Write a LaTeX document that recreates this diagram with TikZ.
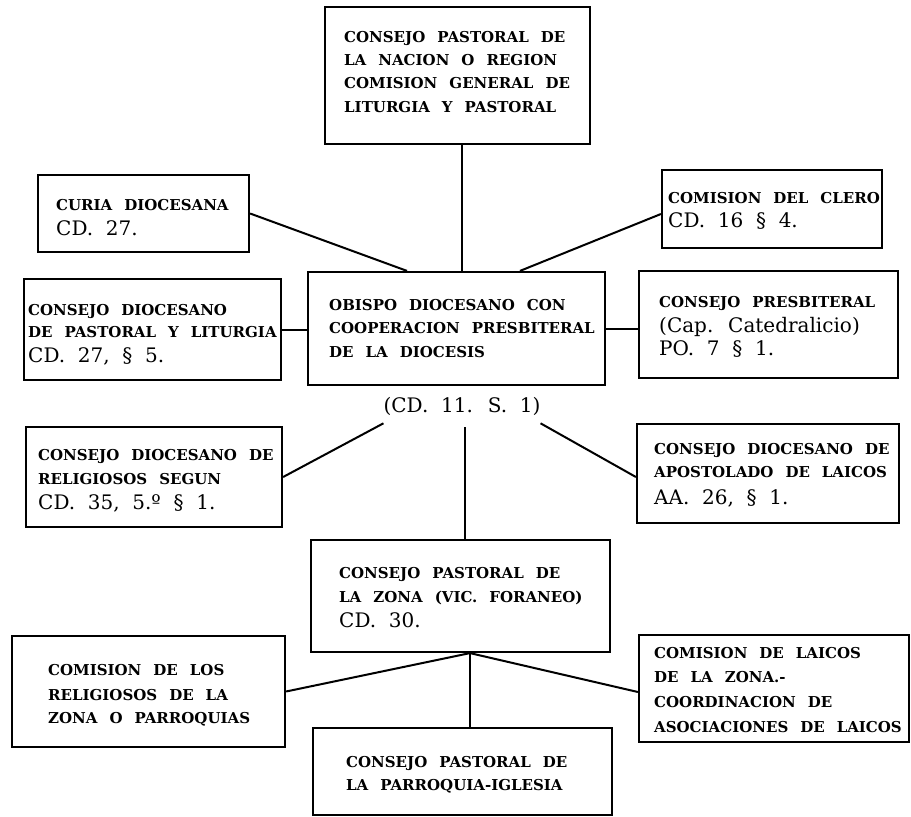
\documentclass[tikz,border=0pt]{standalone}
\usepackage{fontspec}
\setmainfont{DejaVu Serif}
\newfontfamily\capf[WordSpace=2.3]{DejaVu Serif Bold}
\newfontfamily\cdf[WordSpace=2]{DejaVu Serif}
\begin{document}
\begin{tikzpicture}[x=1pt,y=-1pt,
  box/.style={draw,line width=2.2pt,inner sep=0},
  ln/.style={line width=2pt},
  captxt/.style={anchor=base west,inner sep=0,font=\capf\fontsize{15}{16}\selectfont},
  cdtxt/.style={anchor=base west,inner sep=0,font=\cdf\fontsize{20}{20}\selectfont}]
\useasboundingbox[fill=white] (0,0) rectangle (911,817);
% boxes
\node[box,minimum width=265pt,minimum height=137pt] (top) at (457.5,75.5) {};
\node[box,minimum width=211pt,minimum height=77pt] (curia) at (143.5,213.5) {};
\node[box,minimum width=220pt,minimum height=78pt] (clero) at (772,209) {};
\node[box,minimum width=257pt,minimum height=101pt] (dpl) at (152.5,329.5) {};
\node[box,minimum width=297pt,minimum height=113pt] (obispo) at (456.5,328.5) {};
\node[box,minimum width=259pt,minimum height=107pt] (presb) at (768.5,324.5) {};
\node[box,minimum width=256pt,minimum height=100pt] (relig) at (154,477) {};
\node[box,minimum width=262pt,minimum height=99pt] (apost) at (768,473.5) {};
\node[box,minimum width=299pt,minimum height=112pt] (zona) at (460.5,596) {};
\node[box,minimum width=273pt,minimum height=111pt] (comrel) at (148.5,691.5) {};
\node[box,minimum width=270pt,minimum height=107pt] (comlai) at (774,688.5) {};
\node[box,minimum width=299pt,minimum height=87pt] (parr) at (462.5,771.5) {};
% texts
\node[captxt] (t1) at (344,42) {CONSEJO PASTORAL DE};
\node[captxt] (t2) at (344,65) {LA NACION O REGION};
\node[captxt] (t3) at (344,88) {COMISION GENERAL DE};
\node[captxt] (t4) at (344,112) {LITURGIA Y PASTORAL};
\node[captxt] (c1) at (56,210) {CURIA DIOCESANA};
\node[cdtxt] (c2) at (56,235) {CD. 27.};
\node[captxt] (k1) at (668,203) {COMISION DEL CLERO};
\node[cdtxt] (k2) at (668,227) {CD. 16 § 4.};
\node[captxt] (d1) at (28,315) {CONSEJO DIOCESANO};
\node[captxt] (d2) at (28,337) {DE PASTORAL Y LITURGIA};
\node[cdtxt] (d3) at (28,362) {CD. 27, § 5.};
\node[captxt] (o1) at (329,310) {OBISPO DIOCESANO CON};
\node[captxt] (o2) at (329,333) {COOPERACION PRESBITERAL};
\node[captxt] (o3) at (329,357) {DE LA DIOCESIS};
\node[captxt] (p1) at (659,307) {CONSEJO PRESBITERAL};
\node[cdtxt] (p2) at (659,332) {(Cap. Catedralicio)};
\node[cdtxt] (p3) at (659,355) {PO. 7 § 1.};
\node[cdtxt,anchor=base] (cdl) at (462,412) {(CD. 11. S. 1)};
\node[captxt] (r1) at (38,460) {CONSEJO DIOCESANO DE};
\node[captxt] (r2) at (38,484) {RELIGIOSOS SEGUN};
\node[cdtxt] (r3) at (38,509) {CD. 35, 5.º § 1.};
\node[captxt] (a1) at (654,454) {CONSEJO DIOCESANO DE};
\node[captxt] (a2) at (654,477) {APOSTOLADO DE LAICOS};
\node[cdtxt] (a3) at (654,504) {AA. 26, § 1.};
\node[captxt] (z1) at (339,578) {CONSEJO PASTORAL DE};
\node[captxt] (z2) at (339,602) {LA ZONA (VIC. FORANEO)};
\node[cdtxt] (z3) at (339,627) {CD. 30.};
\node[captxt] (m1) at (48,675) {COMISION DE LOS};
\node[captxt] (m2) at (48,700) {RELIGIOSOS DE LA};
\node[captxt] (m3) at (48,723) {ZONA O PARROQUIAS};
\node[captxt] (l1) at (654,658) {COMISION DE LAICOS};
\node[captxt] (l2) at (654,682) {DE LA ZONA.-};
\node[captxt] (l3) at (654,707) {COORDINACION DE};
\node[captxt] (l4) at (654,732) {ASOCIACIONES DE LAICOS};
\node[captxt] (q1) at (346,767) {CONSEJO PASTORAL DE};
\node[captxt] (q2) at (346,790) {LA PARROQUIA-IGLESIA};
% connectors
\draw[ln] ([xshift=4.5pt]top.south) -- ([xshift=5.5pt]obispo.north);
\draw[ln] (curia.east) -- ([xshift=-49.5pt]obispo.north);
\draw[ln] ([yshift=-5pt]clero.west) -- ([xshift=63.5pt]obispo.north);
\draw[ln] (dpl.east) -- (dpl.east -| obispo.west);
\draw[ln] (obispo.east) -- (obispo.east -| presb.west);
\draw[ln] (relig.east) -- ([yshift=-8pt]cdl.south west);
\draw[ln] ([xshift=3pt,yshift=-12pt]cdl.south) -- ([xshift=4.5pt]zona.north);
\draw[ln] ([yshift=-8pt]cdl.south east) -- ([yshift=-3.5pt]apost.west);
\coordinate (zb) at ([xshift=9.5pt]zona.south);
\draw[ln] (zb) -- (comrel.east);
\draw[ln] (zb) -- ([yshift=-3.5pt]comlai.west);
\draw[ln] (zb) -- ([xshift=7.5pt]parr.north);
\end{tikzpicture}
\end{document}
